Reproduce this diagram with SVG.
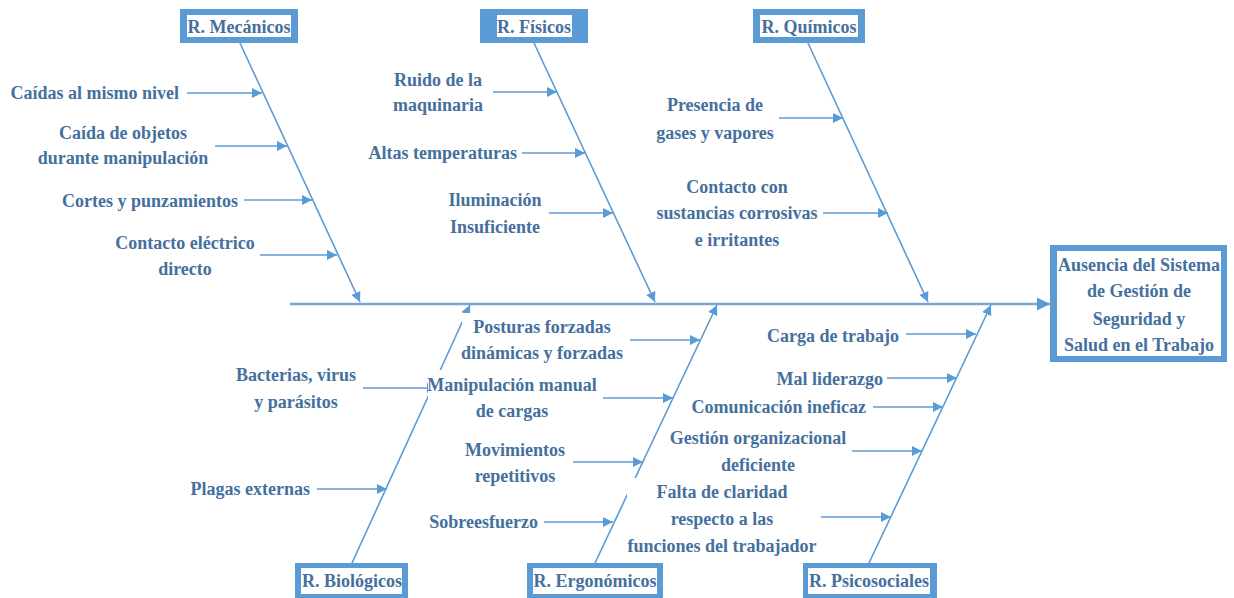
<svg xmlns="http://www.w3.org/2000/svg" width="1234" height="598" viewBox="0 0 1234 598">
<defs>
<style>
text{font-family:"Liberation Serif","Times New Roman",serif;font-weight:bold;font-size:18px;fill:#44709D;dominant-baseline:central}
.c{text-anchor:middle}
.e{text-anchor:end}
.s{text-anchor:start}
.bone{stroke:#5B9BD5;stroke-width:1.4;fill:none}
.arr{stroke:#5B9BD5;stroke-width:1.6;fill:none;marker-end:url(#ah)}
.spine{stroke:#79A6DA;stroke-width:2.6;fill:none;marker-end:url(#ah2)}
.ob{fill:#5B9BD5}
.ib{fill:#fff}
.wb{fill:#fff}
</style>
<marker id="ah" viewBox="0 0 10 10" refX="10" refY="5" markerWidth="10" markerHeight="10" markerUnits="userSpaceOnUse" orient="auto">
<path d="M0,0 L10,5 L0,10 z" fill="#5B9BD5"/>
</marker>
<marker id="ah2" viewBox="0 0 10 10" refX="10" refY="5" markerWidth="5" markerHeight="5" orient="auto">
<path d="M0,0 L10,5 L0,10 z" fill="#5B9BD5"/>
</marker>
</defs>
<rect width="1234" height="598" fill="#fff"/>
<g id="connectors">
<line class="spine" x1="290" y1="304" x2="1050" y2="304"/>
<line class="bone arr" x1="240" y1="43" x2="360" y2="302"/>
<line class="bone arr" x1="534" y1="43" x2="655" y2="302"/>
<line class="bone arr" x1="808" y1="43" x2="928" y2="302"/>
<line class="bone arr" x1="352" y1="563" x2="470" y2="305"/>
<line class="bone arr" x1="595" y1="563" x2="717" y2="305"/>
<line class="bone arr" x1="869" y1="563" x2="991" y2="305"/>
<line class="arr" x1="187" y1="93" x2="262" y2="93"/>
<line class="arr" x1="215" y1="146" x2="287" y2="146"/>
<line class="arr" x1="244" y1="200" x2="312" y2="200"/>
<line class="arr" x1="260" y1="255" x2="337" y2="255"/>
<line class="arr" x1="493" y1="92" x2="557" y2="92"/>
<line class="arr" x1="522" y1="153" x2="585" y2="153"/>
<line class="arr" x1="549" y1="213" x2="613" y2="213"/>
<line class="arr" x1="779" y1="118" x2="843" y2="118"/>
<line class="arr" x1="823" y1="213" x2="888" y2="213"/>
<line class="arr" x1="363" y1="388" x2="437" y2="388"/>
<line class="arr" x1="317" y1="489" x2="387" y2="489"/>
<line class="arr" x1="630" y1="340" x2="700" y2="340"/>
<line class="arr" x1="603" y1="398" x2="673" y2="398"/>
<line class="arr" x1="573" y1="462" x2="643" y2="462"/>
<line class="arr" x1="544" y1="522" x2="613" y2="522"/>
<line class="arr" x1="906" y1="334" x2="976" y2="334"/>
<line class="arr" x1="887" y1="378" x2="957" y2="378"/>
<line class="arr" x1="873" y1="407" x2="943" y2="407"/>
<line class="arr" x1="852" y1="451" x2="922" y2="451"/>
<line class="arr" x1="821" y1="517" x2="891" y2="517"/>
</g>
<g id="box-mecanicos"><rect class="ob" x="180" y="9" width="118" height="34"/><rect class="ib" x="187" y="15" width="104" height="22"/><text class="c" x="239" y="27">R. Mecánicos</text></g>
<g id="box-fisicos"><rect class="ob" x="480" y="9" width="108" height="34"/><rect class="ib" x="497" y="15" width="75" height="22"/><text class="c" x="534" y="27">R. Físicos</text></g>
<g id="box-quimicos"><rect class="ob" x="753" y="9" width="112" height="34"/><rect class="ib" x="760" y="15" width="98" height="22"/><text class="c" x="809" y="27">R. Químicos</text></g>
<g id="box-biologicos"><rect class="ob" x="295" y="563" width="113" height="35"/><rect class="ib" x="301" y="568" width="101" height="26"/><text class="c" x="352" y="581">R. Biológicos</text></g>
<g id="box-ergonomicos"><rect class="ob" x="527" y="563" width="136" height="35"/><rect class="ib" x="533" y="568" width="124" height="26"/><text class="c" x="595" y="581">R. Ergonómicos</text></g>
<g id="box-psicosociales"><rect class="ob" x="803" y="563" width="134" height="35"/><rect class="ib" x="808" y="568" width="122" height="26"/><text class="c" x="869" y="581">R. Psicosociales</text></g>
<g id="box-effect"><rect class="ob" x="1050" y="245" width="177" height="117"/><rect class="ib" x="1057" y="251" width="164" height="105"/>
<text class="c" x="1139" y="265">Ausencia del Sistema</text><text class="c" x="1139" y="291">de Gestión de</text><text class="c" x="1139" y="319">Seguridad y</text><text class="c" x="1139" y="345">Salud en el Trabajo</text></g>
<g id="c-caidas"><text class="e" x="179" y="93">Caídas al mismo nivel</text></g>
<g id="c-objetos"><text class="c" x="123" y="133">Caída de objetos</text><text class="c" x="123" y="158">durante manipulación</text></g>
<g id="c-cortes"><text class="e" x="238" y="201">Cortes y punzamientos</text></g>
<g id="c-electrico"><text class="c" x="185" y="243">Contacto eléctrico</text><text class="c" x="185" y="269">directo</text></g>
<g id="c-ruido"><text class="c" x="438" y="80">Ruido de la</text><text class="c" x="438" y="105">maquinaria</text></g>
<g id="c-temperaturas"><text class="e" x="517" y="153">Altas temperaturas</text></g>
<g id="c-iluminacion"><text class="c" x="495" y="200">Iluminación</text><text class="c" x="495" y="227">Insuficiente</text></g>
<g id="c-gases"><text class="c" x="715" y="105">Presencia de</text><text class="c" x="715" y="133">gases y vapores</text></g>
<g id="c-sustancias"><text class="c" x="737" y="187">Contacto con</text><text class="c" x="737" y="213">sustancias corrosivas</text><text class="c" x="737" y="240">e irritantes</text></g>
<g id="c-bacterias"><text class="c" x="296" y="375">Bacterias, virus</text><text class="c" x="296" y="402">y parásitos</text></g>
<g id="c-plagas"><text class="e" x="310" y="489">Plagas externas</text></g>
<g id="c-posturas"><rect class="wb" x="462" y="313" width="163" height="52"/><text class="c" x="542" y="327">Posturas forzadas</text><text class="c" x="542" y="353">dinámicas y forzadas</text></g>
<g id="c-manipulacion"><rect class="wb" x="428" y="370" width="174" height="50"/><text class="c" x="512" y="385">Manipulación manual</text><text class="c" x="512" y="411">de cargas</text></g>
<g id="c-movimientos"><text class="c" x="515" y="450">Movimientos</text><text class="c" x="515" y="476">repetitivos</text></g>
<g id="c-sobreesfuerzo"><text class="e" x="538" y="522">Sobreesfuerzo</text></g>
<g id="c-carga"><text class="e" x="899" y="336">Carga de trabajo</text></g>
<g id="c-liderazgo"><text class="e" x="883" y="379">Mal liderazgo</text></g>
<g id="c-comunicacion"><text class="e" x="866" y="407">Comunicación ineficaz</text></g>
<g id="c-gestion"><text class="c" x="758" y="438">Gestión organizacional</text><text class="c" x="758" y="465">deficiente</text></g>
<g id="c-claridad"><rect class="wb" x="627" y="478" width="193" height="78"/><text class="c" x="722" y="492">Falta de claridad</text><text class="c" x="722" y="519">respecto a las</text><text class="c" x="722" y="546">funciones del trabajador</text></g>
</svg>
